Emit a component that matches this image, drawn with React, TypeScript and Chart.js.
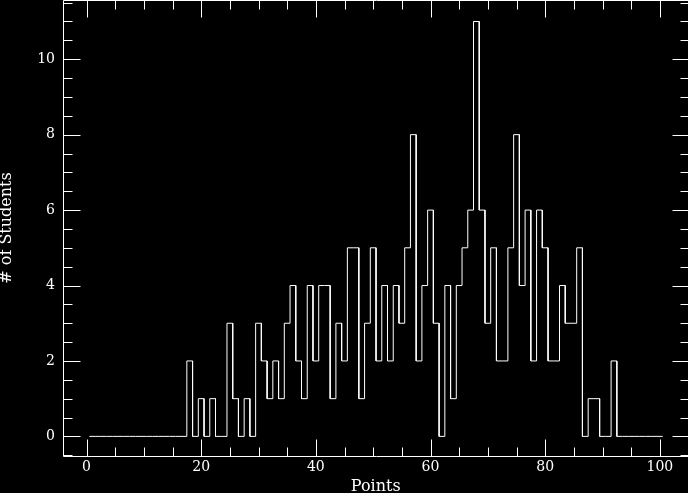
import React, { useEffect, useRef } from "react";
import { Chart, registerables } from "chart.js";

Chart.register(...registerables);

// Histogram bins (width 1), centred on 1..100
const firstBinCenter = 1;
const binWidth = 1;
const counts = [
  0, 0, 0, 0, 0, 0, 0, 0, 0, 0, // 1-10
  0, 0, 0, 0, 0, 0, 0, 2, 0, 1, // 11-20
  0, 1, 0, 0, 3, 1, 0, 1, 0, 3, // 21-30
  2, 1, 2, 1, 3, 4, 2, 1, 4, 2, // 31-40
  4, 4, 1, 3, 2, 5, 5, 1, 3, 5, // 41-50
  2, 4, 2, 4, 3, 5, 8, 2, 4, 6, // 51-60
  3, 0, 4, 1, 4, 5, 6, 11, 6, 3, // 61-70
  5, 2, 2, 5, 8, 4, 6, 2, 6, 5, // 71-80
  2, 2, 4, 3, 3, 5, 0, 1, 1, 0, // 81-90
  0, 2, 0, 0, 0, 0, 0, 0, 0, 0, // 91-100
];

const xTickValues = [0, 20, 40, 60, 80, 100];
const yTickValues = [0, 2, 4, 6, 8, 10];
const xMinorStep = 5;
const yMinorStep = 0.5;
const xRange = [-4.1, 105];
const yRange = [-0.52, 11.57];
const xTitle = "Points";
const yTitle = "# of Students";

const FONT = "'DejaVu Serif', 'Liberation Serif', serif";

const idlAxes = {
  id: "idlAxes",
  beforeDraw(chart: any) {
    const { ctx, width, height } = chart;
    ctx.save();
    ctx.fillStyle = "#000";
    ctx.fillRect(0, 0, width, height);
    ctx.restore();
  },
  afterDatasetsDraw(chart: any) {
    const { ctx, chartArea: a, scales } = chart;
    const xs = scales.x;
    const ys = scales.y;
    const L = Math.round(a.left) + 0.5;
    const R = Math.round(a.right) + 0.5;
    const T = Math.round(a.top) + 0.5;
    const B = Math.round(a.bottom) + 0.5;
    const major = 17;
    const minor = 9;
    ctx.save();
    ctx.strokeStyle = "#fff";
    ctx.lineWidth = 1;
    ctx.beginPath();
    ctx.rect(L, T, R - L, B - T);
    // x ticks
    const xmin = xs.min, xmax = xs.max;
    for (let v = Math.ceil(xmin / xMinorStep) * xMinorStep; v <= xmax + 1e-9; v += xMinorStep) {
      const isMajor = xTickValues.some((t) => Math.abs(t - v) < 1e-9);
      const len = isMajor ? major : minor;
      const px = Math.round(xs.getPixelForValue(v)) + 0.5;
      ctx.moveTo(px, B);
      ctx.lineTo(px, B - len);
      ctx.moveTo(px, T);
      ctx.lineTo(px, T + len);
    }
    // y ticks
    const ymin = ys.min, ymax = ys.max;
    for (let v = Math.ceil(ymin / yMinorStep) * yMinorStep; v <= ymax + 1e-9; v += yMinorStep) {
      const isMajor = yTickValues.some((t) => Math.abs(t - v) < 1e-9);
      const len = isMajor ? major : minor;
      const py = Math.round(ys.getPixelForValue(v)) + 0.5;
      ctx.moveTo(L, py);
      ctx.lineTo(L + len, py);
      ctx.moveTo(R, py);
      ctx.lineTo(R - len, py);
    }
    ctx.stroke();
    ctx.restore();
  },
};

const zeroPadding = (s: any) => {
  s.paddingTop = 0;
  s.paddingBottom = 0;
  s.paddingLeft = 0;
  s.paddingRight = 0;
};

export default function App() {
  const canvasRef = useRef<HTMLCanvasElement | null>(null);

  useEffect(() => {
    document.body.style.margin = "0";
    document.body.style.overflow = "hidden";
    document.body.style.background = "#000";
    const canvas = canvasRef.current;
    if (!canvas) return;

    const points: { x: number; y: number }[] = [];
    counts.forEach((v, i) => {
      const c = firstBinCenter + i * binWidth;
      points.push({ x: c - binWidth / 2, y: v });
      points.push({ x: c + binWidth / 2, y: v });
    });

    const chart = new Chart(canvas, {
      type: "line",
      data: {
        datasets: [
          {
            data: points,
            borderColor: "#fff",
            borderWidth: 1,
            pointRadius: 0,
            tension: 0,
            fill: false,
          },
        ],
      },
      options: {
        animation: false,
        responsive: false,
        maintainAspectRatio: false,
        devicePixelRatio: 1,
        parsing: false,
        layout: { padding: { left: 0, top: 0, right: 1.5, bottom: 0 } },
        plugins: {
          legend: { display: false },
          tooltip: { enabled: false },
        },
        scales: {
          x: {
            type: "linear",
            position: "bottom",
            min: xRange[0],
            max: xRange[1],
            grid: { display: false, drawTicks: false },
            border: { display: false },
            ticks: {
              color: "#fff",
              font: { family: FONT, size: 14 },
              padding: 3,
              maxRotation: 0,
              autoSkip: false,
            },
            afterBuildTicks: (s: any) => {
              s.ticks = xTickValues.map((v) => ({ value: v }));
            },
            afterFit: (s: any) => {
              s.height = 37;
              zeroPadding(s);
            },
            title: {
              display: true,
              text: xTitle,
              color: "#fff",
              font: { family: FONT, size: 16, lineHeight: 1 },
              padding: { top: 0, bottom: -2 },
            },
          },
          y: {
            type: "linear",
            position: "left",
            min: yRange[0],
            max: yRange[1],
            grid: { display: false, drawTicks: false },
            border: { display: false },
            ticks: {
              color: "#fff",
              font: { family: FONT, size: 14 },
              padding: 8,
              autoSkip: false,
            },
            afterBuildTicks: (s: any) => {
              s.ticks = yTickValues.map((v) => ({ value: v }));
            },
            afterFit: (s: any) => {
              s.width = 63;
              zeroPadding(s);
            },
            title: {
              display: true,
              text: yTitle,
              color: "#fff",
              font: { family: FONT, size: 16, lineHeight: 1 },
              padding: { top: -1, bottom: 0 },
            },
          },
        },
      } as any,
      plugins: [idlAxes as any],
    });

    return () => chart.destroy();
  }, []);

  return (
    <div style={{ position: "absolute", left: 0, top: 0, width: 690, height: 493, background: "#000" }}>
      <canvas ref={canvasRef} width={690} height={493} style={{ display: "block" }} />
    </div>
  );
}
